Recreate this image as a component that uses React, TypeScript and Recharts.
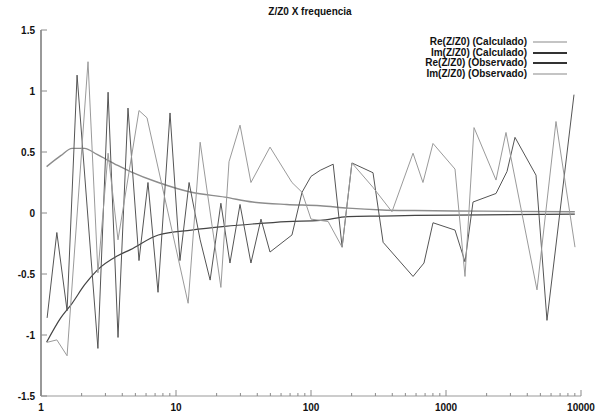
import React from "react";
import { LineChart, Line, XAxis, YAxis, Legend } from "recharts";

const calcFreq = [1.1, 1.4, 1.7, 2.1, 2.6, 3.7, 4.6, 7.4, 13, 23, 37, 66, 117, 188, 336, 589, 1880, 9000];
const reCalc = [0.38, 0.47, 0.53, 0.53, 0.48, 0.39, 0.34, 0.25, 0.17, 0.13, 0.09, 0.07, 0.06, 0.04, 0.025, 0.02, 0.015, 0.01];
const imCalc = [-1.06, -0.86, -0.74, -0.59, -0.47, -0.35, -0.3, -0.18, -0.14, -0.11, -0.09, -0.07, -0.06, -0.03, -0.025, -0.02, -0.015, -0.01];

const reObsFreq = [1.11, 1.31, 1.56, 1.85, 2.64, 3.14, 3.72, 4.41, 5.32, 6.2, 7.36, 9.03, 10.7, 12.5, 15.1, 17.9, 21.5, 25.1, 29.8, 35.9, 42.6, 49.7, 72.3, 85.8, 100, 117, 146, 170, 201, 288, 342, 570, 687, 801, 1166, 1383, 1585, 2347, 2830, 3244, 4642, 5598, 8873];
const reObs = [-0.86, -0.16, -0.8, 1.13, -1.11, 0.99, -1.02, 0.86, -0.39, 0.25, -0.65, 0.82, -0.39, 0.25, -0.22, -0.55, 0.08, -0.41, 0.07, -0.41, -0.05, -0.32, -0.18, 0.17, 0.3, 0.35, 0.4, -0.28, 0.41, 0.33, -0.24, -0.52, -0.41, -0.08, -0.14, -0.4, 0.09, 0.16, 0.34, 0.62, 0.31, -0.88, 0.97];

const imObsFreq = [1.11, 1.31, 1.56, 2.23, 2.64, 3.14, 3.72, 5.32, 6.1, 12.3, 15.1, 21.5, 24.7, 29.8, 35.9, 49.7, 72.3, 85.8, 100, 134, 170, 201, 288, 398, 570, 675, 801, 1166, 1383, 1613, 2347, 2782, 4721, 6527, 9028];
const imObs = [-1.06, -1.04, -1.17, 1.24, -0.49, 0.49, -0.22, 0.84, 0.78, -0.74, 0.58, -0.61, 0.42, 0.72, 0.25, 0.54, 0.25, 0.17, -0.05, -0.07, -0.28, 0.41, 0.21, 0.01, 0.49, 0.25, 0.57, 0.36, -0.52, 0.7, 0.27, 0.66, -0.63, 0.75, -0.28];

const xMajor = [1, 10, 100, 1000, 10000];
const xTicks = [1, 2, 3, 4, 5, 6, 7, 8, 9, 10, 20, 30, 40, 50, 60, 70, 80, 90, 100, 200, 300, 400, 500, 600, 700, 800, 900, 1000, 2000, 3000, 4000, 5000, 6000, 7000, 8000, 9000, 10000];
const yTicks = [-1.5, -1, -0.5, 0, 0.5, 1, 1.5];

const title = "Z/Z0 X frequencia";
const names = ["Re(Z/Z0) (Calculado)", "Im(Z/Z0) (Calculado)", "Re(Z/Z0) (Observado)", "Im(Z/Z0) (Observado)"];
const colors = ["#8c8c8c", "#444444", "#555555", "#9a9a9a"];
const legendColors = ["#c4c4c4", "#333333", "#333333", "#c4c4c4"];

const calcData = calcFreq.map((f, i) => ({ f, re: reCalc[i], im: imCalc[i] }));
const reObsData = reObsFreq.map((f, i) => ({ f, v: reObs[i] }));
const imObsData = imObsFreq.map((f, i) => ({ f, v: imObs[i] }));

const FONT = "'Liberation Sans', Arial, Helvetica, sans-serif";
const TICK = "#8a8a8a";

const BottomTick = (props: any) => {
  const { x, y, payload } = props;
  const major = xMajor.includes(payload.value);
  return (
    <g>
      <line x1={x} x2={x} y1={y} y2={y - (major ? 6 : 3)} stroke={TICK} />
      {major && (
        <text x={x} y={y + 15} textAnchor="middle" fontSize={10} fontWeight="bold" fontFamily={FONT} fill="#111">
          {payload.value}
        </text>
      )}
    </g>
  );
};

const TopTick = (props: any) => {
  const { x, y, payload } = props;
  const major = xMajor.includes(payload.value);
  return <line x1={x} x2={x} y1={y} y2={y + (major ? 6 : 3)} stroke={TICK} />;
};

const LeftTick = (props: any) => {
  const { x, y, payload } = props;
  return (
    <g>
      <line x1={x} x2={x + 6} y1={y} y2={y} stroke={TICK} />
      <text x={x - 6} y={y} dy="0.35em" textAnchor="end" fontSize={10} fontWeight="bold" fontFamily={FONT} fill="#111">
        {payload.value}
      </text>
    </g>
  );
};

const RightTick = (props: any) => {
  const { x, y } = props;
  return <line x1={x} x2={x - 6} y1={y} y2={y} stroke={TICK} />;
};

const LegendContent = () => (
  <div style={{ fontFamily: FONT, fontSize: 10, fontWeight: "bold", color: "#111" }}>
    {names.map((n, i) => (
      <div key={i} style={{ display: "flex", justifyContent: "flex-end", alignItems: "center", height: 10.5, lineHeight: "10.5px" }}>
        <span style={{ whiteSpace: "nowrap" }}>{n}</span>
        <span style={{ display: "inline-block", width: 34, marginLeft: 6, borderTop: `2px solid ${legendColors[i]}` }} />
      </div>
    ))}
  </div>
);

export default function App() {
  return (
    <div style={{ position: "absolute", left: 0, top: 0, width: 608, height: 417, background: "#fff" }}>
      <div style={{ position: "absolute", left: 0, top: 6, width: 620, textAlign: "center", fontFamily: FONT, fontSize: 10, fontWeight: "bold", color: "#111" }}>
        {title}
      </div>
      <LineChart width={608} height={417} margin={{ top: 30, right: 27, bottom: 0, left: 0 }}>
        <XAxis xAxisId="b" dataKey="f" type="number" scale="log" domain={[1, 10000]} allowDataOverflow ticks={xTicks} interval={0} height={21} tickSize={0} tickMargin={0} tick={BottomTick} axisLine={{ stroke: "#999" }} />
        <XAxis xAxisId="t" orientation="top" dataKey="f" type="number" scale="log" domain={[1, 10000]} allowDataOverflow ticks={xTicks} interval={0} height={0} tickSize={0} tickMargin={0} tick={TopTick} axisLine={{ stroke: "#999" }} />
        <YAxis yAxisId="l" type="number" domain={[-1.5, 1.5]} allowDataOverflow ticks={yTicks} interval={0} width={41} tickSize={0} tickMargin={0} tick={LeftTick} axisLine={{ stroke: "#999", strokeWidth: 2 }} />
        <YAxis yAxisId="r" orientation="right" type="number" domain={[-1.5, 1.5]} allowDataOverflow ticks={yTicks} interval={0} width={0} tickSize={0} tickMargin={0} tick={RightTick} axisLine={{ stroke: "#999" }} />
        <Legend layout="vertical" align="center" verticalAlign="middle" content={LegendContent} wrapperStyle={{ position: "absolute", left: 367, top: 37, width: 200, height: 44 }} />
        <Line xAxisId="b" yAxisId="l" data={calcData} dataKey="re" name={names[0]} type="monotone" stroke={colors[0]} strokeWidth={1.4} dot={false} isAnimationActive={false} />
        <Line xAxisId="b" yAxisId="l" data={calcData} dataKey="im" name={names[1]} type="monotone" stroke={colors[1]} strokeWidth={1.2} dot={false} isAnimationActive={false} />
        <Line xAxisId="b" yAxisId="l" data={reObsData} dataKey="v" name={names[2]} type="linear" stroke={colors[2]} strokeWidth={1} dot={false} isAnimationActive={false} />
        <Line xAxisId="b" yAxisId="l" data={imObsData} dataKey="v" name={names[3]} type="linear" stroke={colors[3]} strokeWidth={1} dot={false} isAnimationActive={false} />
      </LineChart>
    </div>
  );
}
